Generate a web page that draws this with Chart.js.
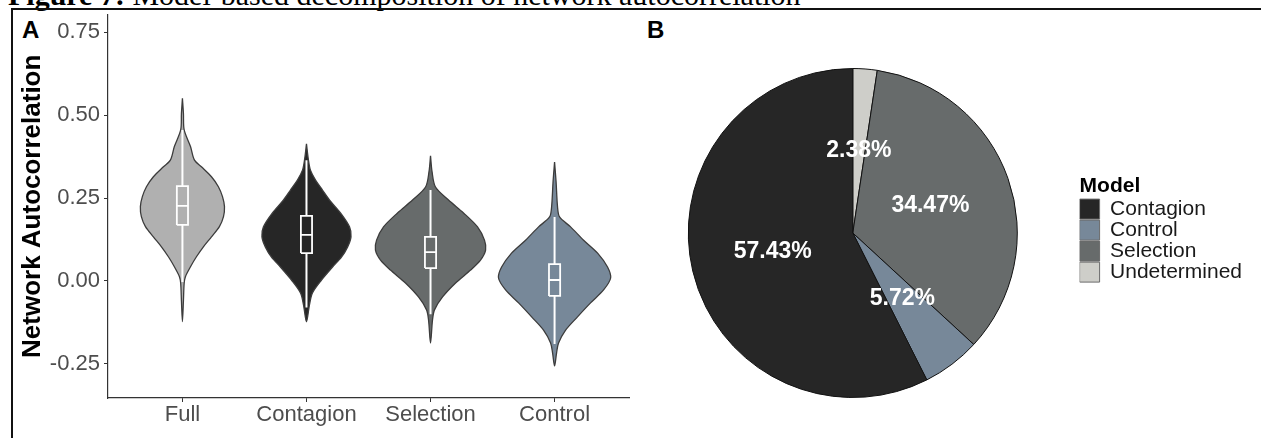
<!DOCTYPE html>
<html>
<head>
<meta charset="utf-8">
<script src="https://cdn.jsdelivr.net/npm/chart.js@4.4.1/dist/chart.umd.min.js"></script>
<style>
  html, body { margin: 0; padding: 0; background: #fff; }
  body { width: 1261px; height: 438px; position: relative; overflow: hidden; font-family: "Liberation Sans", Arial, sans-serif; }
  #caption { position: absolute; left: 8px; top: -20px; font: 30px "Liberation Serif", "Times New Roman", serif; line-height: 30px; white-space: nowrap; color: #000; }
  #frame { position: absolute; left: 11px; top: 8px; width: 1260px; height: 440px; border-top: 2px solid #111; border-left: 2px solid #111; }
  .tag { position: absolute; font: bold 24px "Liberation Sans", Arial, sans-serif; line-height: 24px; color: #000; }
  canvas { position: absolute; }
</style>
</head>
<body>
<div id="caption"><b>Figure 7:</b> Model-based decomposition of network autocorrelation</div>
<div id="frame"></div>
<div class="tag" style="left:22px;top:18px">A</div>
<div class="tag" style="left:647px;top:18px">B</div>
<canvas id="violin" width="616" height="448" style="left:14px;top:-10px"></canvas>
<canvas id="pie" width="635" height="428" style="left:626px;top:10px"></canvas>

<script>
// ---------- Panel A: distributions of network autocorrelation ----------
const groups = ['Full', 'Contagion', 'Selection', 'Control'];
const yTicks = [-0.25, 0, 0.25, 0.5, 0.75];

// Violin outlines: autocorrelation level (top to bottom) and half-width of the
// density at that level, in category units.
const fullLevel      = [0.550, 0.505, 0.455, 0.405, 0.364, 0.344, 0.314, 0.284, 0.254, 0.224, 0.194, 0.164, 0.133, 0.103, 0.073, 0.043, 0.013, -0.007, -0.060, -0.123];
const fullWidth      = [0.000, 0.008, 0.014, 0.065, 0.097, 0.153, 0.234, 0.290, 0.323, 0.339, 0.331, 0.298, 0.234, 0.169, 0.113, 0.065, 0.024, 0.014, 0.008, 0.000];
const contagionLevel = [0.413, 0.364, 0.334, 0.304, 0.274, 0.244, 0.205, 0.163, 0.133, 0.102, 0.072, 0.042, 0.003, -0.036, -0.072, -0.123];
const contagionWidth = [0.000, 0.016, 0.032, 0.073, 0.129, 0.185, 0.274, 0.347, 0.359, 0.331, 0.282, 0.210, 0.121, 0.048, 0.024, 0.000];
const selectionLevel = [0.377, 0.330, 0.283, 0.244, 0.205, 0.163, 0.123, 0.093, 0.063, 0.033, -0.006, -0.048, -0.087, -0.117, -0.187];
const selectionWidth = [0.000, 0.012, 0.040, 0.145, 0.266, 0.379, 0.435, 0.444, 0.403, 0.323, 0.202, 0.097, 0.032, 0.016, 0.000];
const controlLevel   = [0.358, 0.300, 0.223, 0.193, 0.163, 0.123, 0.084, 0.042, 0.009, -0.027, -0.066, -0.108, -0.148, -0.187, -0.217, -0.256];
const controlWidth   = [0.000, 0.012, 0.024, 0.040, 0.129, 0.234, 0.347, 0.427, 0.452, 0.395, 0.290, 0.185, 0.089, 0.032, 0.016, 0.000];

// Box plot summaries per group
const boxLow    = [-0.003, -0.080, -0.100, -0.190];
const boxQ1     = [0.169, 0.084, 0.039, -0.045];
const boxMedian = [0.226, 0.139, 0.087, 0.003];
const boxQ3     = [0.286, 0.196, 0.133, 0.051];
const boxHigh   = [0.455, 0.364, 0.274, 0.193];

// ---------- Panel B: share of autocorrelation by model ----------
const models = ['Undetermined', 'Selection', 'Control', 'Contagion'];
const shares = [2.38, 34.47, 5.72, 57.43];

// ---------- styling ----------
const FONT = '"Liberation Sans", Arial, sans-serif';
const palette = {
  Full: '#b0b0b0',
  Contagion: '#262626',
  Selection: '#676b6b',
  Control: '#778899',
  Undetermined: '#cecec9'
};
const violinEdge = '#3c3c3c';
const boxHalf = 0.045;

const profiles = {
  Full: [fullLevel, fullWidth],
  Contagion: [contagionLevel, contagionWidth],
  Selection: [selectionLevel, selectionWidth],
  Control: [controlLevel, controlWidth]
};

function violinPath(center, level, width) {
  const pts = [];
  for (let k = 0; k < level.length; k++) pts.push({ x: center + width[k], y: level[k] });
  for (let k = level.length - 2; k >= 1; k--) pts.push({ x: center - width[k], y: level[k] });
  pts.push({ x: center, y: level[0] });
  return pts;
}

function seg(points, extra) {
  return Object.assign({
    data: points, showLine: true, fill: false, pointRadius: 0, pointHoverRadius: 0,
    borderColor: '#ffffff', borderWidth: 2, tension: 0, order: 1
  }, extra || {});
}

const violinSets = [];
groups.forEach((g, i) => {
  const c = i + 1;
  const [level, width] = profiles[g];
  violinSets.push({
    data: violinPath(c, level, width), showLine: true, fill: 'shape',
    backgroundColor: palette[g], borderColor: violinEdge, borderWidth: 1.3,
    pointRadius: 0, pointHoverRadius: 0, tension: 0.3, order: 2
  });
  violinSets.push(seg([{ x: c, y: boxQ3[i] }, { x: c, y: boxHigh[i] }]));
  violinSets.push(seg([{ x: c, y: boxLow[i] }, { x: c, y: boxQ1[i] }]));
  violinSets.push(seg([
    { x: c - boxHalf, y: boxQ1[i] }, { x: c - boxHalf, y: boxQ3[i] },
    { x: c + boxHalf, y: boxQ3[i] }, { x: c + boxHalf, y: boxQ1[i] },
    { x: c - boxHalf, y: boxQ1[i] }
  ], { borderWidth: 1.8 }));
  violinSets.push(seg([{ x: c - boxHalf, y: boxMedian[i] }, { x: c + boxHalf, y: boxMedian[i] }], { borderWidth: 1.8 }));
});

new Chart(document.getElementById('violin'), {
  type: 'scatter',
  data: { datasets: violinSets },
  options: {
    responsive: false, animation: false, devicePixelRatio: 1, events: [],
    layout: { padding: { top: 24.6, right: 1, left: 0, bottom: 0 } },
    plugins: { legend: { display: false }, tooltip: { enabled: false } },
    scales: {
      x: {
        type: 'linear', min: 0.4, max: 4.6,
        afterBuildTicks: s => { s.ticks = groups.map((g, i) => ({ value: i + 1 })); },
        afterFit: s => { s.height = 40; },
        ticks: {
          callback: (v, i) => groups[i], color: '#4d4d4d', font: { family: FONT, size: 22 },
          padding: 0, maxRotation: 0, autoSkip: false
        },
        grid: { drawOnChartArea: false, drawTicks: true, tickLength: 4, color: '#333', lineWidth: 1 },
        border: { display: true, color: '#333', width: 1.2 }
      },
      y: {
        type: 'linear', min: -0.3525, max: 0.8025,
        afterBuildTicks: s => { s.ticks = yTicks.map(v => ({ value: v })); },
        afterFit: s => { s.width = 94; },
        ticks: {
          callback: v => Number(v).toFixed(2), color: '#4d4d4d', font: { family: FONT, size: 22 },
          padding: 4, autoSkip: false
        },
        grid: { drawOnChartArea: false, drawTicks: true, tickLength: 4, color: '#333', lineWidth: 1 },
        border: { display: true, color: '#333', width: 1.2 },
        title: {
          display: true, text: 'Network Autocorrelation', color: '#000',
          font: { family: FONT, size: 26, weight: 'bold' }, padding: { top: 3.4, bottom: 0 }
        }
      }
    }
  }
});

// ---------- Panel B chart ----------
const pctLabels = {
  id: 'pctLabels',
  afterDatasetsDraw(chart) {
    const ctx = chart.ctx;
    const meta = chart.getDatasetMeta(0);
    ctx.save();
    ctx.font = 'bold 23px ' + FONT;
    ctx.fillStyle = '#ffffff';
    ctx.textAlign = 'center';
    ctx.textBaseline = 'middle';
    meta.data.forEach((arc, i) => {
      const p = arc.getProps(['x', 'y', 'startAngle', 'endAngle', 'outerRadius'], true);
      const mid = (p.startAngle + p.endAngle) / 2;
      const r = p.outerRadius / 2;
      ctx.fillText(shares[i].toFixed(2) + '%', p.x + Math.cos(mid) * r, p.y + Math.sin(mid) * r);
    });
    ctx.restore();
  }
};

new Chart(document.getElementById('pie'), {
  type: 'pie',
  data: {
    labels: models,
    datasets: [{
      data: shares,
      backgroundColor: models.map(m => palette[m]),
      borderColor: '#111', borderWidth: 1
    }]
  },
  options: {
    responsive: false, animation: false, devicePixelRatio: 1, events: [],
    layout: { padding: { top: 58, bottom: 40, left: 0, right: 9 } },
    plugins: {
      tooltip: { enabled: false },
      legend: {
        position: 'right', align: 'center',
        title: {
          display: true, text: 'Model', position: 'start', color: '#000',
          font: { family: FONT, size: 21, weight: 'bold' }, padding: { top: -8, bottom: -2 }
        },
        labels: {
          boxWidth: 20, boxHeight: 20, padding: 0, color: '#1a1a1a',
          font: { family: FONT, size: 21 },
          sort: (a, b) => a.text.localeCompare(b.text),
          generateLabels: chart => {
            const base = Chart.overrides.pie.plugins.legend.labels.generateLabels(chart);
            base.forEach(item => { item.strokeStyle = '#6b6b6b'; item.lineWidth = 1; });
            return base;
          }
        }
      }
    }
  },
  plugins: [pctLabels]
});
</script>
</body>
</html>
